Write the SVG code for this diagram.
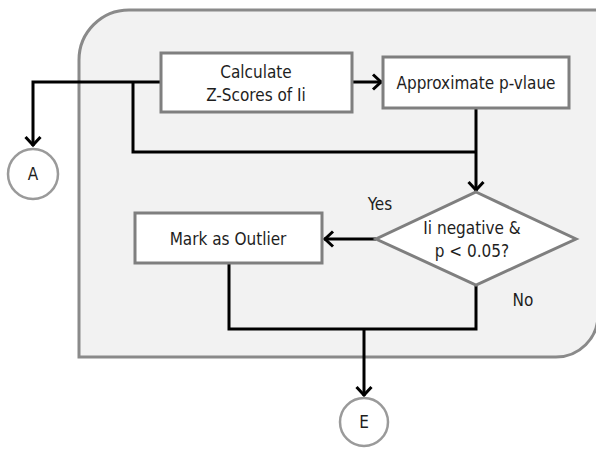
<svg xmlns="http://www.w3.org/2000/svg" width="596" height="449" viewBox="0 0 596 449">
  <style>
    .box { fill: #ffffff; stroke: #7f7f7f; stroke-width: 3; }
    .circ { fill: #ffffff; stroke: #9a9a9a; stroke-width: 2.5; }
    .wire { fill: none; stroke: #000000; stroke-width: 3; }
    .lbl { font-family: "DejaVu Sans Condensed", "DejaVu Sans", sans-serif; font-stretch: condensed; font-size: 17px; fill: #1e1e1e; text-anchor: middle; }
  </style>
  <defs>
    <marker id="arrow" viewBox="-12 -10 14 20" markerWidth="14" markerHeight="20" refX="0" refY="0" orient="auto" markerUnits="userSpaceOnUse">
      <path d="M-9,-7.5 L-1,0 L-9,7.5" fill="none" stroke="#000000" stroke-width="3"/>
    </marker>
  </defs>

  <rect x="0" y="0" width="596" height="449" fill="#ffffff"/>

  <!-- process container -->
  <g id="container">
    <path d="M79,357 L79,60 A50,50 0 0 1 129,10 L598,10 L598,315 A42,42 0 0 1 556,357 Z" fill="#f2f2f2" stroke="#8a8a8a" stroke-width="3"/>
  </g>

  <!-- connectors -->
  <g id="connectors">
    <path class="wire" d="M161,82 L33,82 L33,146" marker-end="url(#arrow)"/>
    <path class="wire" d="M133,82 L133,152 L476,152"/>
    <path class="wire" d="M352,82 L382,82" marker-end="url(#arrow)"/>
    <path class="wire" d="M476,108 L476,191" marker-end="url(#arrow)"/>
    <path class="wire" d="M376,239 L324,239" marker-end="url(#arrow)"/>
    <path class="wire" d="M229,263 L229,329 L476,329 L476,285"/>
    <path class="wire" d="M364,329 L364,396" marker-end="url(#arrow)"/>
  </g>

  <g id="calc">
    <rect class="box" x="161" y="53" width="191" height="59"/>
    <text class="lbl" x="256" y="78">Calculate</text>
    <text class="lbl" x="256" y="101">Z-Scores of Ii</text>
  </g>

  <g id="approx">
    <rect class="box" x="383" y="57" width="186" height="51"/>
    <text class="lbl" x="476" y="89">Approximate p-vlaue</text>
  </g>

  <g id="decision">
    <polygon class="box" points="476,192 576,239 476,285 376,239"/>
    <text class="lbl" x="472" y="234">Ii negative &amp;</text>
    <text class="lbl" x="472" y="257">p &lt; 0.05?</text>
  </g>

  <g id="outlier">
    <rect class="box" x="135" y="213" width="187" height="50"/>
    <text class="lbl" x="228" y="245">Mark as Outlier</text>
  </g>

  <g id="yes-label">
    <text class="lbl" x="380" y="210">Yes</text>
  </g>
  <g id="no-label">
    <text class="lbl" x="523" y="306">No</text>
  </g>

  <g id="conn-a">
    <circle class="circ" cx="33" cy="174" r="25"/>
    <text class="lbl" x="33" y="180">A</text>
  </g>

  <g id="conn-e">
    <circle class="circ" cx="364" cy="422" r="24"/>
    <text class="lbl" x="364" y="428">E</text>
  </g>
</svg>
